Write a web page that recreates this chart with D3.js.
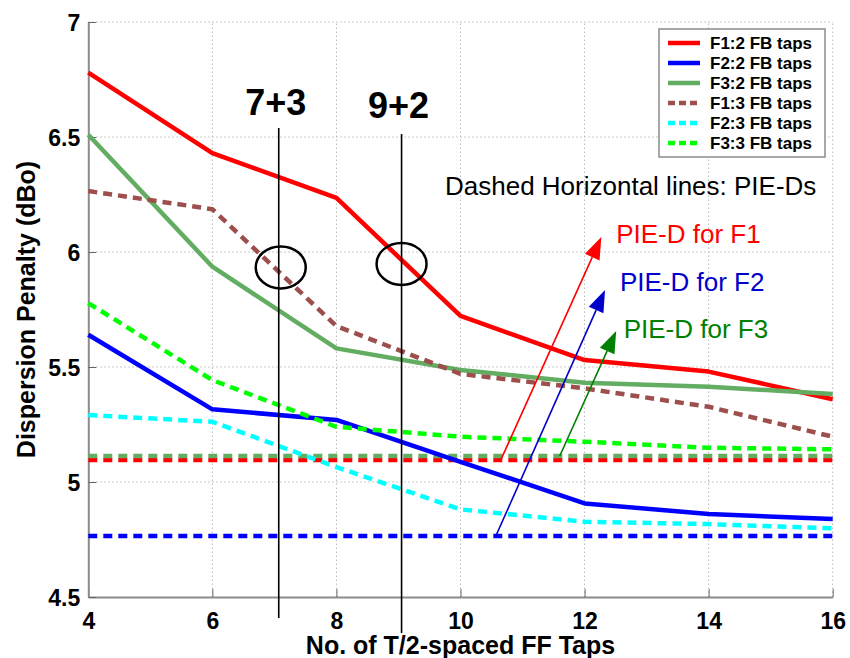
<!DOCTYPE html>
<html>
<head>
<meta charset="utf-8">
<script src="https://cdn.jsdelivr.net/npm/d3@7"></script>
<style>
  html, body { margin: 0; padding: 0; background: #fff; }
  svg { display: block; font-family: Arial, "Liberation Sans", sans-serif; }
</style>
</head>
<body>
<svg id="chart" width="850" height="658"></svg>
<script>
// Number of T/2-spaced feed-forward taps
const ffTaps = [4, 6, 8, 10, 12, 14, 16];

// Dispersion penalty (dBo) for each fibre and feedback-tap count
const f1Fb2 = [6.78, 6.43, 6.235, 5.722, 5.53, 5.48, 5.36];
const f2Fb2 = [5.64, 5.316, 5.27, 5.088, 4.907, 4.861, 4.839];
const f3Fb2 = [6.51, 5.936, 5.581, 5.487, 5.432, 5.414, 5.383];
const f1Fb3 = [6.265, 6.186, 5.678, 5.47, 5.407, 5.327, 5.197];
const f2Fb3 = [5.291, 5.262, 5.065, 4.881, 4.827, 4.817, 4.799];
const f3Fb3 = [5.778, 5.443, 5.24, 5.197, 5.175, 5.149, 5.142];

const seriesNames = ["F1:2 FB taps", "F2:2 FB taps", "F3:2 FB taps",
                     "F1:3 FB taps", "F2:3 FB taps", "F3:3 FB taps"];

// PIE-D reference penalties
const pieDFibres = ["F1", "F2", "F3"];
const pieDValues = [5.096, 4.765, 5.113];

const xTicks = [4, 6, 8, 10, 12, 14, 16];
const yTicks = [4.5, 5, 5.5, 6, 6.5, 7];

// Tap-combination markers (FF taps, penalty at circled point)
const comboLabels = ["7+3", "9+2"];
const comboX = [7.07, 9.05];
const comboCircleY = [5.933, 5.948];

// Arrow annotations pointing from each PIE-D line to its label
const arrowFrom = [[10.65, 5.096], [10.57, 4.765], [11.6, 5.113]];
const arrowTo = [[12.27, 6.065], [12.33, 5.835], [12.51, 5.657]];
const arrowLabelPos = [[12.51, 6.04], [12.57, 5.832], [12.63, 5.626]];

// ---------------------------------------------------------------
const width = 850, height = 658;
const margin = { top: 22, right: 17.3, bottom: 61, left: 88.3 };
const svg = d3.select("#chart");

const x = d3.scaleLinear().domain([4, 16]).range([margin.left, width - margin.right]);
const y = d3.scaleLinear().domain([4.5, 7]).range([height - margin.bottom, margin.top]);

const colors = {
  red: "#ff0000", blue: "#0000ff", green: "#62ad62",
  brown: "#9c4f4c", cyan: "#00ffff", lime: "#00ff00",
  darkGreen: "#008000"
};

const styles = [
  { color: colors.red, dash: null },
  { color: colors.blue, dash: null },
  { color: colors.green, dash: null },
  { color: colors.brown, dash: "9,6" },
  { color: colors.cyan, dash: "9,6" },
  { color: colors.lime, dash: "9,6" }
];
const seriesValues = [f1Fb2, f2Fb2, f3Fb2, f1Fb3, f2Fb3, f3Fb3];
const pieDColors = [colors.red, colors.blue, colors.green];
const arrowColors = [colors.red, "#0000cc", colors.darkGreen];

// Grid
const grid = svg.append("g").attr("class", "grid");
grid.selectAll("line.vx").data(xTicks.slice(1)).join("line")
  .attr("x1", d => x(d)).attr("x2", d => x(d))
  .attr("y1", y(4.5)).attr("y2", y(7))
  .attr("stroke", "#b8b8b8").attr("stroke-width", 1).attr("stroke-dasharray", "1.5,2.5");
grid.selectAll("line.hy").data(yTicks.slice(1)).join("line")
  .attr("x1", x(4)).attr("x2", x(16))
  .attr("y1", d => y(d)).attr("y2", d => y(d))
  .attr("stroke", "#b8b8b8").attr("stroke-width", 1).attr("stroke-dasharray", "1.5,2.5");

// Axes
const xAxis = d3.axisBottom(x).tickValues(xTicks).tickFormat(d3.format("d"))
  .tickSizeInner(-8).tickSizeOuter(0).tickPadding(20);
const yAxis = d3.axisLeft(y).tickValues(yTicks).tickFormat(d => d)
  .tickSizeInner(-8).tickSizeOuter(0).tickPadding(8);

const gx = svg.append("g").attr("transform", `translate(0,${y(4.5)})`).call(xAxis);
const gy = svg.append("g").attr("transform", `translate(${x(4)},0)`).call(yAxis);
[gx, gy].forEach(g => {
  g.select(".domain").attr("stroke", "#8c8c8c").attr("stroke-width", 2);
  g.selectAll(".tick line").attr("stroke", "#666").attr("stroke-width", 1);
  g.selectAll(".tick text").attr("fill", "#000").attr("font-weight", "bold")
    .attr("font-family", "Arial, 'Liberation Sans', sans-serif");
});
gx.selectAll(".tick text").attr("font-size", 23).attr("dy", "0.5em");
gy.selectAll(".tick text").attr("font-size", 23).attr("dy", "0.36em");

// Axis titles
svg.append("text")
  .attr("x", (x(4) + x(16)) / 2).attr("y", 654)
  .attr("text-anchor", "middle").attr("font-size", 25).attr("font-weight", "bold")
  .text("No. of T/2-spaced FF Taps");
svg.append("text")
  .attr("transform", `translate(35,${(y(4.5) + y(7)) / 2}) rotate(-90)`)
  .attr("text-anchor", "middle").attr("font-size", 25).attr("font-weight", "bold")
  .text("Dispersion Penalty (dBo)");

// PIE-D horizontal dashed lines
svg.append("g").selectAll("line").data(pieDValues).join("line")
  .attr("x1", x(4)).attr("x2", x(16))
  .attr("y1", d => y(d)).attr("y2", d => y(d))
  .attr("stroke", (d, i) => pieDColors[i]).attr("stroke-width", 4.5)
  .attr("stroke-dasharray", "9,6");

// Series lines
const line = d3.line().x((d, i) => x(ffTaps[i])).y(d => y(d));
svg.append("g").selectAll("path").data(seriesValues).join("path")
  .attr("d", d => line(d))
  .attr("fill", "none")
  .attr("stroke", (d, i) => styles[i].color)
  .attr("stroke-width", 4.5)
  .attr("stroke-linejoin", "round")
  .attr("stroke-dasharray", (d, i) => styles[i].dash);

// Tap-combination markers
const combo = svg.append("g");
combo.selectAll("line").data(comboX).join("line")
  .attr("x1", d => x(d)).attr("x2", d => x(d))
  .attr("y1", (d, i) => [128, 134][i]).attr("y2", (d, i) => [618, 633][i])
  .attr("stroke", "#000").attr("stroke-width", 1.6);
combo.selectAll("text").data(comboLabels).join("text")
  .attr("x", (d, i) => x(comboX[i]) - 3).attr("y", (d, i) => [115, 118][i])
  .attr("text-anchor", "middle").attr("font-size", 36).attr("font-weight", "bold")
  .text(d => d);
combo.selectAll("ellipse").data(comboCircleY).join("ellipse")
  .attr("cx", (d, i) => x(comboX[i]) + [2, 0][i]).attr("cy", d => y(d))
  .attr("rx", 25).attr("ry", 21)
  .attr("fill", "none").attr("stroke", "#000").attr("stroke-width", 2.5);

// Note
svg.append("text")
  .attr("x", x(9.75)).attr("y", y(6.248))
  .attr("font-size", 26).attr("fill", "#000")
  .text("Dashed Horizontal lines: PIE-Ds");

// Arrows to PIE-D labels
const arrows = svg.append("g");
arrowFrom.forEach((p0, i) => {
  const [x0, y0] = [x(p0[0]), y(p0[1])];
  const [x1, y1] = [x(arrowTo[i][0]), y(arrowTo[i][1])];
  const ang = Math.atan2(y1 - y0, x1 - x0);
  const headLen = 22, headHalf = 8;
  const bx = x1 - headLen * Math.cos(ang), by = y1 - headLen * Math.sin(ang);
  arrows.append("line")
    .attr("x1", x0).attr("y1", y0).attr("x2", bx).attr("y2", by)
    .attr("stroke", arrowColors[i]).attr("stroke-width", 1.6);
  const px = -Math.sin(ang) * headHalf, py = Math.cos(ang) * headHalf;
  arrows.append("polygon")
    .attr("points", [[x1, y1], [bx + px, by + py], [bx - px, by - py]].map(p => p.join(",")).join(" "))
    .attr("fill", arrowColors[i]);
  arrows.append("text")
    .attr("x", x(arrowLabelPos[i][0])).attr("y", y(arrowLabelPos[i][1]))
    .attr("font-size", 26).attr("fill", arrowColors[i])
    .text("PIE-D for " + pieDFibres[i]);
});

// Legend
const legend = svg.append("g").attr("transform", "translate(659,29)");
legend.append("rect")
  .attr("width", 166).attr("height", 128)
  .attr("fill", "#fff").attr("stroke", "#8c8c8c").attr("stroke-width", 1.5);
const rows = legend.selectAll("g.row").data(seriesNames).join("g")
  .attr("transform", (d, i) => `translate(0,${14 + i * 20})`);
rows.append("line")
  .attr("x1", 9).attr("x2", 41).attr("y1", 0).attr("y2", 0)
  .attr("stroke", (d, i) => styles[i].color).attr("stroke-width", 4.5)
  .attr("stroke-dasharray", (d, i) => styles[i].dash ? "7,4" : null);
rows.append("text")
  .attr("x", 51).attr("y", 0).attr("dy", "0.36em")
  .attr("font-size", 17).attr("font-weight", "bold")
  .text(d => d);
</script>
</body>
</html>
